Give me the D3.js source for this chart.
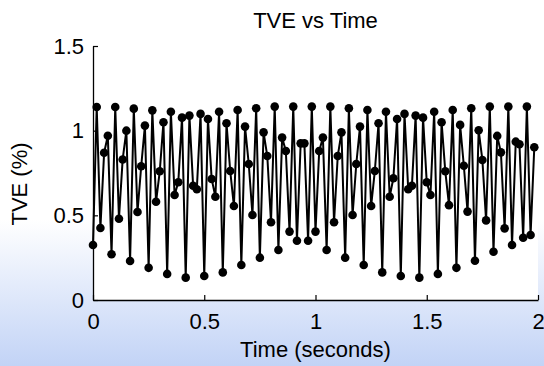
<!DOCTYPE html>
<html>
<head>
<meta charset="utf-8">
<script src="https://cdn.jsdelivr.net/npm/d3@7"></script>
<style>
html,body{margin:0;padding:0;background:#fff;}
svg{display:block;}
text{font-family:"Liberation Sans",Arial,Helvetica,sans-serif;fill:#000;}
</style>
</head>
<body>
<svg id="chart" width="544" height="366"></svg>
<script>
// ---- data ----
const title = "TVE vs Time";
const xLabel = "Time (seconds)";
const yLabel = "TVE (%)";
const xTicks = [0, 0.5, 1, 1.5, 2];
const yTicks = [0, 0.5, 1, 1.5];
const xDomain = [0, 2];
const yDomain = [0, 1.5];
const sampleInterval = 1 / 60; // seconds between samples
const tveValues = [
  0.325, 1.14, 0.425, 0.87, 0.97,
  0.27, 1.14, 0.48, 0.83, 1.00,
  0.23, 1.13, 0.52, 0.79, 1.03,
  0.19, 1.12, 0.58, 0.76, 1.05,
  0.154, 1.112, 0.62, 0.695, 1.077,
  0.132, 1.089, 0.675, 0.654, 1.099,
  0.142, 1.069, 0.715, 0.61, 1.112,
  0.163, 1.044, 0.762, 0.555, 1.122,
  0.207, 1.024, 0.803, 0.502, 1.132,
  0.25, 0.99, 0.85, 0.459, 1.142,
  0.295, 0.959, 0.88, 0.404, 1.142,
  0.35, 0.925, 0.925, 0.35, 1.142,
  0.404, 0.88, 0.959, 0.295, 1.142,
  0.459, 0.85, 0.99, 0.25, 1.132,
  0.502, 0.803, 1.024, 0.207, 1.122,
  0.555, 0.762, 1.044, 0.163, 1.112,
  0.61, 0.719, 1.069, 0.142, 1.099,
  0.654, 0.675, 1.089, 0.132, 1.077,
  0.695, 0.62, 1.112, 0.154, 1.05,
  0.76, 0.56, 1.122, 0.19, 1.034,
  0.793, 0.522, 1.132, 0.232, 1.002,
  0.827, 0.47, 1.142, 0.285, 0.969,
  0.872, 0.423, 1.142, 0.325, 0.935,
  0.92, 0.368, 1.142, 0.384, 0.902
];

// ---- layout ----
const W = 544, H = 366;
const plot = {left: 93, right: 538, top: 46, bottom: 300};
const svg = d3.select("#chart");

// background gradient (figure)
const defs = svg.append("defs");
const grad = defs.append("linearGradient").attr("id", "bg")
  .attr("x1", 0).attr("y1", 0).attr("x2", 0).attr("y2", 1);
grad.append("stop").attr("offset", "0%").attr("stop-color", "#ffffff");
grad.append("stop").attr("offset", "60%").attr("stop-color", "#ffffff");
grad.append("stop").attr("offset", "100%").attr("stop-color", "#c2d3f6");
svg.append("rect").attr("width", W).attr("height", H).attr("fill", "url(#bg)");

// plot area
svg.append("rect")
  .attr("x", plot.left).attr("y", plot.top)
  .attr("width", plot.right - plot.left).attr("height", plot.bottom - plot.top)
  .attr("fill", "#ffffff");

const x = d3.scaleLinear().domain(xDomain).range([plot.left, plot.right]);
const y = d3.scaleLinear().domain(yDomain).range([plot.bottom, plot.top]);

const fmt = d => d3.format("~g")(d);

// axes (ticks pointing inward)
const xAxis = d3.axisBottom(x).tickValues(xTicks).tickFormat(fmt).tickSizeInner(-5).tickSizeOuter(0).tickPadding(13);
const yAxis = d3.axisLeft(y).tickValues(yTicks).tickFormat(fmt).tickSizeInner(-5).tickSizeOuter(0).tickPadding(9);

const gx = svg.append("g").attr("transform", `translate(0,${plot.bottom})`).call(xAxis);
const gy = svg.append("g").attr("transform", `translate(${plot.left},0)`).call(yAxis);
[gx, gy].forEach(g => {
  g.select(".domain").attr("stroke", "#000").attr("stroke-width", 1.3);
  g.selectAll(".tick line").attr("stroke", "#000").attr("stroke-width", 1.2);
  g.selectAll(".tick text").attr("font-size", 22).attr("font-family", "Liberation Sans, Arial, sans-serif").attr("fill", "#000");
});

// data
const data = tveValues.map((v, i) => ({t: i * sampleInterval, v}));
const line = d3.line().x(d => x(d.t)).y(d => y(d.v));
svg.append("path").datum(data)
  .attr("d", line).attr("fill", "none").attr("stroke", "#000").attr("stroke-width", 2);
svg.append("g").selectAll("circle").data(data).join("circle")
  .attr("cx", d => x(d.t)).attr("cy", d => y(d.v)).attr("r", 4.3).attr("fill", "#000");

// labels
svg.append("text").attr("x", (plot.left + plot.right) / 2).attr("y", 28)
  .attr("text-anchor", "middle").attr("font-size", 22).text(title);
svg.append("text").attr("x", (plot.left + plot.right) / 2).attr("y", 357)
  .attr("text-anchor", "middle").attr("font-size", 22).text(xLabel);
svg.append("text").attr("transform", `translate(27,184) rotate(-90)`)
  .attr("text-anchor", "middle").attr("font-size", 22).text(yLabel);
</script>
</body>
</html>
